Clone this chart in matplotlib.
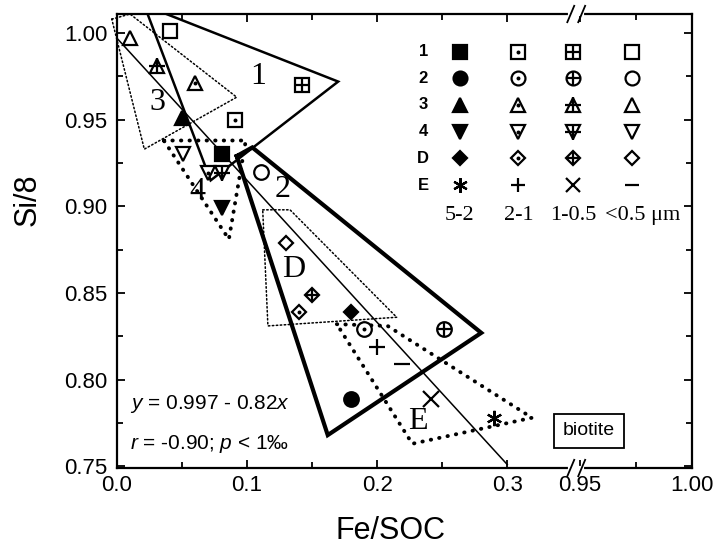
import numpy as np
import matplotlib

matplotlib.use("Agg")
import matplotlib.pyplot as plt
from matplotlib.ticker import FixedFormatter, FixedLocator

plt.rcParams["font.family"] = ["Liberation Sans", "DejaVu Sans"]
plt.rcParams["mathtext.fontset"] = "custom"
plt.rcParams["mathtext.rm"] = "Liberation Sans"
plt.rcParams["mathtext.it"] = "Liberation Sans:italic"

GROUPS = ["1", "2", "3", "4", "D", "E"]
FRACTIONS = ["5-2", "2-1", "1-0.5", "<0.5 \u03bcm"]

# Fe/SOC and Si/8 per group, one value per size fraction (5-2, 2-1, 1-0.5, <0.5 um)
FE_1 = [0.081, 0.091, 0.142, 0.041]
SI_1 = [0.930, 0.950, 0.970, 1.001]
FE_2 = [0.180, 0.190, 0.251, 0.111]
SI_2 = [0.789, 0.829, 0.829, 0.920]
FE_3 = [0.050, 0.060, 0.031, 0.010]
SI_3 = [0.951, 0.971, 0.981, 0.997]
FE_4 = [0.081, 0.070, 0.081, 0.051]
SI_4 = [0.899, 0.919, 0.919, 0.930]
FE_D = [0.180, 0.140, 0.150, 0.130]
SI_D = [0.839, 0.839, 0.849, 0.879]
FE_E = [0.290, 0.200, 0.241, 0.219]
SI_E = [0.778, 0.819, 0.789, 0.809]

# outlines drawn around each group
HULL_1_X = [0.021, 0.170, 0.072]
HULL_1_Y = [1.016, 0.972, 0.915]
HULL_2_X = [0.092, 0.104, 0.280, 0.162]
HULL_2_Y = [0.929, 0.934, 0.827, 0.768]
HULL_3_X = [-0.004, 0.010, 0.092, 0.021]
HULL_3_Y = [1.008, 1.011, 0.963, 0.933]
HULL_4_X = [0.036, 0.099, 0.086]
HULL_4_Y = [0.938, 0.938, 0.881]
HULL_D_X = [0.112, 0.133, 0.215, 0.116]
HULL_D_Y = [0.898, 0.898, 0.836, 0.831]
HULL_E_X = [0.169, 0.208, 0.319, 0.227]
HULL_E_Y = [0.832, 0.831, 0.778, 0.763]

# group names written inside the outlines
NAME_X = [0.1085, 0.127, 0.031, 0.0615, 0.1354, 0.2315]
NAME_Y = [0.975, 0.910, 0.960, 0.9085, 0.8635, 0.776]

# linear fit y = a + b*x
FIT_A = 0.997
FIT_B = -0.82
FIT_R = -0.90
FIT_X = [0.0, 0.30]

X_MAJOR = [0.0, 0.1, 0.2, 0.3, 0.95, 1.00]
X_MAJOR_LABELS = ["0.0", "0.1", "0.2", "0.3", "0.95", "1.00"]
X_MINOR = [0.05, 0.15, 0.25, 0.975]
Y_MAJOR = [0.75, 0.80, 0.85, 0.90, 0.95, 1.00]
Y_MINOR = [0.775, 0.825, 0.875, 0.925, 0.975]

# broken x axis: 0-0.35 and 0.95-1.00 (stretched)
LEFT_MAX, RIGHT_MIN = 0.35, 0.95
GAP = 0.006
STRETCH = 1.72


def _fwd(x):
    x = np.asarray(x, dtype=float)
    mid = LEFT_MAX + (x - LEFT_MAX) * GAP / (RIGHT_MIN - LEFT_MAX)
    right = LEFT_MAX + GAP + (x - RIGHT_MIN) * STRETCH
    return np.where(x <= LEFT_MAX, x, np.where(x >= RIGHT_MIN, right, mid))


def _inv(t):
    t = np.asarray(t, dtype=float)
    mid = LEFT_MAX + (t - LEFT_MAX) * (RIGHT_MIN - LEFT_MAX) / GAP
    right = RIGHT_MIN + (t - LEFT_MAX - GAP) / STRETCH
    return np.where(t <= LEFT_MAX, t, np.where(t >= LEFT_MAX + GAP, right, mid))


BASE = {"1": "s", "2": "o", "3": "^", "4": "v", "D": "D"}
E_MARKERS = [(6, 2, 0), "+", "x", "_"]


def draw_marker(ax, x, y, group, frac, ms, **kw):
    common = dict(ls="none", color="k", mew=1.6, **kw)
    if group == "E":
        ax.plot(x, y, marker=E_MARKERS[frac], ms=ms * 1.05, **common)
        return
    m = BASE[group]
    size = ms * 0.72 if m == "D" else ms
    face = "k" if frac == 0 else "white"
    ax.plot(x, y, marker=m, ms=size, mfc=face, mec="k", **common)
    if frac == 1:
        ax.plot(x, y, marker=".", ms=2.5, **common)
    elif frac == 2:
        plus = ms * 1.1 if m in ("^", "v") else ms * 0.95
        ax.plot(x, y, marker="+", ms=plus, **common)


fig = plt.figure(figsize=(7.16, 5.49), dpi=100)
ax = fig.add_axes([0.1634, 0.1475, 0.8031, 0.8270])
ax.set_xscale("function", functions=(_fwd, _inv))
ax.set_xlim(0.0, 1.0)
ax.set_ylim(0.749, 1.011)

fe = [FE_1, FE_2, FE_3, FE_4, FE_D, FE_E]
si = [SI_1, SI_2, SI_3, SI_4, SI_D, SI_E]
for g, xs, ys in zip(GROUPS, fe, si):
    for k in range(len(FRACTIONS)):
        draw_marker(ax, [xs[k]], [ys[k]], g, k, ms=10.5, zorder=4)

# group outlines
hulls = [
    (HULL_1_X, HULL_1_Y, dict(lw=1.8, ls="-"), True),
    (HULL_2_X, HULL_2_Y, dict(lw=3.0, ls="-"), True),
    (HULL_3_X, HULL_3_Y, dict(lw=1.1, ls=(0, (1, 1.6))), False),
    (HULL_4_X, HULL_4_Y, dict(lw=2.8, ls=(0, (0.1, 2.1))), True),
    (HULL_D_X, HULL_D_Y, dict(lw=1.1, ls=(0, (1, 1.6))), True),
    (HULL_E_X, HULL_E_Y, dict(lw=2.8, ls=(0, (0.1, 2.1))), True),
]
for hx, hy, style, clip in hulls:
    ax.plot(hx + hx[:1], hy + hy[:1], color="k", dash_capstyle="round",
            solid_joinstyle="miter", clip_on=clip, zorder=3, **style)

for name, nx, ny in zip(GROUPS, NAME_X, NAME_Y):
    ax.text(nx, ny, name, family="Liberation Serif", fontsize=23,
            ha="center", va="center", zorder=5)

fit_x = np.array(FIT_X)
ax.plot(fit_x, FIT_A + FIT_B * fit_x, color="k", lw=1.1, zorder=3)
ax.text(0.022, 0.141, f"$y$ = {FIT_A:.3f} - {abs(FIT_B):.2f}$x$",
        transform=ax.transAxes, fontsize=15, va="center")
ax.text(0.022, 0.052, f"$r$ = {FIT_R:.2f}; $p$ < 1\u2030",
        transform=ax.transAxes, fontsize=15, va="center")

ax.text(0.954, 0.7705, "biotite", fontsize=14, ha="center", va="center",
        bbox=dict(boxstyle="square,pad=0.45", fc="white", ec="k", lw=1.3))

# symbol key, top right
key_cols = [0.5965, 0.698, 0.7936, 0.8952]
key_rows = [0.917, 0.858, 0.7996, 0.7408, 0.682, 0.6233]
for g, ry in zip(GROUPS, key_rows):
    ax.text(0.5327, ry, g, transform=ax.transAxes, fontsize=12,
            fontweight="bold", ha="center", va="center")
    for k, cx in enumerate(key_cols):
        draw_marker(ax, [cx], [ry], g, k, ms=10, transform=ax.transAxes,
                    clip_on=False, zorder=4)
for k, cx in enumerate(key_cols):
    lab = FRACTIONS[k]
    if k < len(key_cols) - 1:
        ax.text(cx, 0.557, lab, transform=ax.transAxes, family="Liberation Serif",
                fontsize=16, ha="center", va="center")
    else:
        ax.text(cx - 0.047, 0.557, lab, transform=ax.transAxes,
                family="Liberation Serif", fontsize=16, ha="left", va="center")

# axes, ticks
ax.xaxis.set_major_locator(FixedLocator(X_MAJOR))
ax.xaxis.set_major_formatter(FixedFormatter(X_MAJOR_LABELS))
ax.xaxis.set_minor_locator(FixedLocator(X_MINOR))
ax.yaxis.set_major_locator(FixedLocator(Y_MAJOR))
ax.yaxis.set_minor_locator(FixedLocator(Y_MINOR))
ax.yaxis.set_major_formatter(FixedFormatter([f"{v:.2f}" for v in Y_MAJOR]))
ax.tick_params(which="both", direction="in", top=True, right=True, width=1.3,
               labelsize=16)
ax.tick_params(which="major", length=6)
ax.tick_params(which="minor", length=4)
ax.tick_params(axis="y", pad=7)
ax.tick_params(axis="x", pad=5)
for sp in ax.spines.values():
    sp.set_linewidth(1.6)

ax.set_xlabel("Fe/SOC", fontsize=22)
ax.set_ylabel("Si/8", fontsize=22)
ax.xaxis.set_label_coords(0.475, -0.105)
ax.yaxis.set_label_coords(-0.13, 0.59)

# break marks on bottom and top spine
t0, t1 = _fwd(0.0), _fwd(1.0)
xb = float((LEFT_MAX + GAP / 2 - t0) / (t1 - t0))
for yb in (0.0, 1.0):
    ax.plot([xb - 0.01, xb + 0.01], [yb, yb], color="white", lw=3,
            transform=ax.transAxes, clip_on=False, zorder=6)
    for dx in (-0.0095, 0.0095):
        ax.plot([xb + dx - 0.006, xb + dx + 0.006], [yb - 0.018, yb + 0.018],
                color="k", lw=1.3, transform=ax.transAxes, clip_on=False, zorder=7)

fig.savefig("out.png", dpi=100)
